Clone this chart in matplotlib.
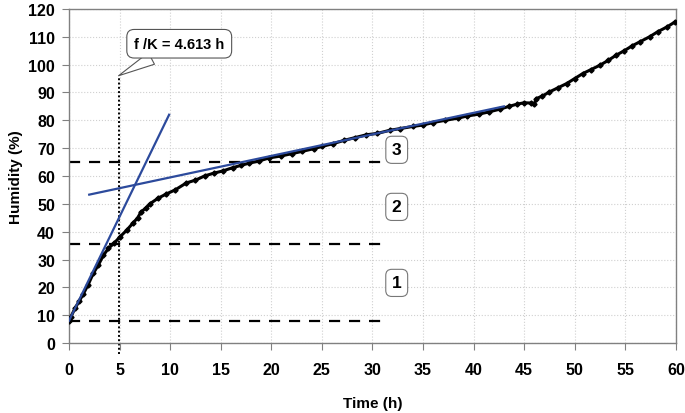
import matplotlib
matplotlib.use("Agg")
import matplotlib.pyplot as plt

plt.rcParams['font.family'] = ['Liberation Sans', 'DejaVu Sans']
plt.rcParams['font.weight'] = 'bold'

# measured curve
time_h = [0, 0.2, 0.6, 1.0, 1.4, 1.9, 2.4, 2.9, 3.4, 3.9, 4.5, 5.0, 5.7, 6.3, 6.8,
          7.1, 7.6, 8.0, 8.8, 9.6, 10.5, 11.6, 12.5, 13.4, 14.3, 15.2, 16.2, 17.0,
          17.8, 18.8, 19.8, 21.0, 22.0, 23.0, 24.2, 25.0, 26.1, 27.2, 28.3, 29.4,
          30.5, 31.7, 32.7, 34.0, 35.0, 36.0, 37.2, 38.5, 39.3, 40.5, 41.5, 42.6,
          43.5, 44.3, 45.0, 45.7, 46.0, 46.2, 46.8, 47.5, 48.3, 49.2, 50.0, 50.8,
          51.6, 52.5, 53.3, 54.1, 54.9, 55.7, 56.5, 57.4, 58.2, 59.1, 59.9]
humidity = [8.0, 9.5, 12.5, 15.0, 17.5, 21.0, 25.0, 28.0, 31.5, 34.0, 36.0, 38.0,
            40.5, 43.0, 45.0, 47.0, 48.5, 50.0, 52.0, 53.5, 55.0, 57.5, 58.5, 60.0,
            61.0, 61.8, 63.0, 63.8, 64.6, 65.4, 66.5, 67.2, 68.0, 68.8, 69.8, 70.6,
            71.6, 72.8, 73.8, 74.8, 75.3, 76.4, 77.0, 77.8, 78.3, 79.2, 80.0, 80.8,
            81.5, 82.2, 83.0, 84.0, 85.0, 85.8, 86.3, 86.2, 85.9, 87.8, 88.7, 90.2,
            91.6, 93.2, 95.0, 96.8, 98.2, 99.8, 101.5, 103.4, 105.0, 106.8, 108.3,
            110.0, 111.8, 113.5, 115.3]

# fitted tangent lines (endpoints)
tangent1_x = [0, 9.9]
tangent1_y = [8, 82]
tangent2_x = [2, 43]
tangent2_y = [53.3, 85]

# phase limits
levels = [8, 35.5, 65]
level_end = 31.2
fk_time = 4.9
fk_top = 96
fk_label = "f /K = 4.613 h"

phase_labels = ["1", "2", "3"]
phase_y = [21.6, 48.9, 69.4]
phase_x = 32.4

fig = plt.figure(figsize=(6.85, 4.14), dpi=100)
ax = fig.add_axes([0.1007, 0.169, 0.886, 0.807])

ax.grid(True, color='#d0d0d0', linestyle=':', linewidth=0.8)
ax.set_axisbelow(True)

for lv in levels:
    ax.plot([0, level_end], [lv, lv], color='black', linestyle=(0, (5, 4)),
            linewidth=1.6, zorder=2)

ax.plot([fk_time, fk_time], [-4, fk_top], color='black', linestyle=(0, (1, 1.2)),
        linewidth=1.4, clip_on=False, zorder=2)

ax.plot(time_h, humidity, color='black', linewidth=2.2, marker='D', markersize=2.6,
        zorder=3)

blue = '#2c4a9c'
ax.plot(tangent1_x, tangent1_y, color=blue, linewidth=1.6, zorder=4)
ax.plot(tangent2_x, tangent2_y, color=blue, linewidth=1.6, zorder=4)

ax.annotate(fk_label, xy=(fk_time, fk_top), xytext=(10.9, 107.5),
            ha='center', va='center', fontsize=10.5, fontweight='bold',
            bbox=dict(boxstyle='round,pad=0.5', fc='white', ec='#555555', lw=0.8),
            arrowprops=dict(arrowstyle='wedge,tail_width=0.9', fc='white',
                            ec='#555555', lw=0.8, shrinkA=0, shrinkB=0),
            zorder=5)

for lab, yy in zip(phase_labels, phase_y):
    ax.text(phase_x, yy, lab, ha='center', va='center', fontsize=12.5,
            fontweight='bold',
            bbox=dict(boxstyle='round,pad=0.35', fc='white', ec='#777777', lw=0.8),
            zorder=5)

ax.set_xlim(0, 60)
ax.set_ylim(0, 120)
ax.set_xticks(range(0, 61, 5))
ax.set_yticks(range(0, 121, 10))
ax.tick_params(axis='both', direction='out', length=5, color='#808080',
               labelsize=11.5)
ax.tick_params(axis='x', pad=9)
ax.tick_params(axis='y', pad=5)
for lab in ax.get_xticklabels() + ax.get_yticklabels():
    lab.set_fontweight('bold')
for sp in ax.spines.values():
    sp.set_color('#808080')
    sp.set_linewidth(1.0)

ax.set_xlabel('Time (h)', fontsize=11, fontweight='bold', labelpad=13)
ax.set_ylabel('Humidity (%)', fontsize=11, fontweight='bold', labelpad=4)

fig.savefig('out.png', dpi=100)
